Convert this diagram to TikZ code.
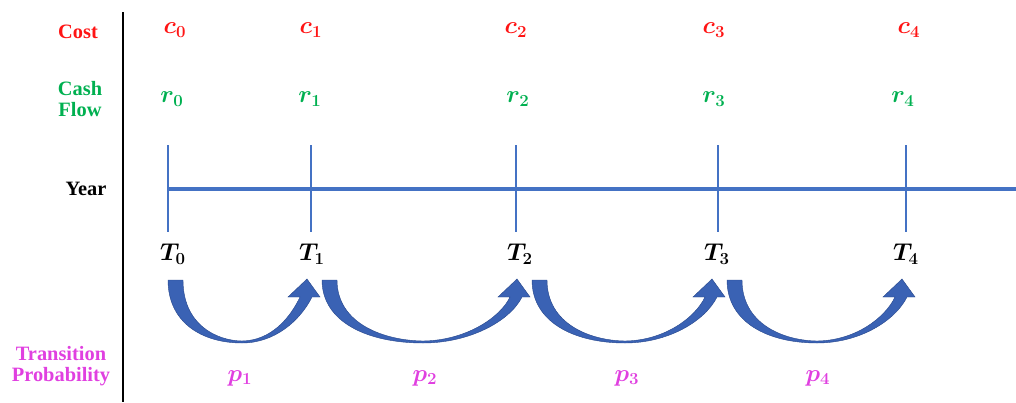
\documentclass[tikz,border=0pt]{standalone}
\usepackage{amsmath,bm}
\usepackage[no-math]{fontspec}
\setmainfont{Liberation Serif}
\definecolor{costred}{RGB}{255,20,20}
\definecolor{cfgreen}{RGB}{0,176,80}
\definecolor{tpmag}{RGB}{224,64,224}
\definecolor{lineblue}{RGB}{68,114,196}
\definecolor{arrblue}{RGB}{58,98,180}
\definecolor{arrdark}{RGB}{40,72,140}
\newcommand\mv[2]{$\bm{#1}_{\bm{#2}}$}
\newcommand\uarrow[4]{% name, tail-left x, bottom x, tip x
  \fill[arrblue, draw=arrdark, line width=0.3pt]
    (#2,280) -- ({#2+15},280)
    .. controls ({#2+15},324) and ({#3-0.45*(#3-#2-15)},340.5) .. (#3,341)
    .. controls ({#3+0.45*(#4-#3)},340.5) and ({#4-17},318) .. ({#4-7},297)
    -- ({#4-19},297) -- (#4,279) coordinate (#1) -- ({#4+13},297) -- ({#4+5},297)
    .. controls ({#4-7},321) and ({#3+0.5*(#4-#3)},343) .. (#3,343)
    .. controls ({#3-0.55*(#3-#2)},343) and (#2,322) .. (#2,280) -- cycle;}
\tikzset{
  lab/.style={font=\fontsize{14.5}{17}\selectfont\bfseries, align=center, inner sep=0pt},
  sym/.style={font=\fontsize{16.5}{19}\selectfont, inner sep=0pt},
  tick/.style={lineblue, line width=1.1pt},
}
\begin{document}
\begin{tikzpicture}[x=0.025cm, y=-0.025cm]
\useasboundingbox (0,0) rectangle (1016,402);
% axis separator
\coordinate (sepTop) at (123,12);
\coordinate (sepBot) at (123,402);
\draw[black, line width=1.4pt] (sepTop) -- (sepBot);
% row labels
\node[lab, text=costred] (lcost) at (78,32) {Cost};
\node[lab, text=cfgreen] (lcf) at (80,99) {Cash\\[-2pt]Flow};
\node[lab, text=black] (lyear) at (86,189) {Year};
\node[lab, text=tpmag] (ltp) at (61,366) {Transition\\[-2pt]Probability};
% timeline
\coordinate (tl0) at (168,189);
\coordinate (tlend) at (1016,189);
\draw[lineblue, line width=2.2pt] (tl0) -- (tlend);
\foreach \i/\x in {0/168,1/311,2/516,3/718,4/906}{
  \coordinate (tt\i) at (\x,145);
  \coordinate (tb\i) at (\x,232);
  \draw[tick] (tt\i) -- (tb\i);
}
% costs
\node[sym, text=costred] (c0) at (175,30) {\mv{c}{0}};
\node[sym, text=costred] (c1) at (311,30) {\mv{c}{1}};
\node[sym, text=costred] (c2) at (516,30) {\mv{c}{2}};
\node[sym, text=costred] (c3) at (714,30) {\mv{c}{3}};
\node[sym, text=costred] (c4) at (909,30) {\mv{c}{4}};
% cash flows
\node[sym, text=cfgreen] (r0) at (172,99) {\mv{r}{0}};
\node[sym, text=cfgreen] (r1) at (310,99) {\mv{r}{1}};
\node[sym, text=cfgreen] (r2) at (518,99) {\mv{r}{2}};
\node[sym, text=cfgreen] (r3) at (714,99) {\mv{r}{3}};
\node[sym, text=cfgreen] (r4) at (903,99) {\mv{r}{4}};
% years
\node[sym] (T0) at (173,254) {\mv{T}{0}};
\node[sym] (T1) at (312,254) {\mv{T}{1}};
\node[sym] (T2) at (520,254) {\mv{T}{2}};
\node[sym] (T3) at (717,254) {\mv{T}{3}};
\node[sym] (T4) at (906,254) {\mv{T}{4}};
% transition arrows
\uarrow{a1}{168}{242}{307}
\uarrow{a2}{322}{423}{517}
\uarrow{a3}{532}{625}{712}
\uarrow{a4}{727}{817}{902}
% probabilities
\node[sym, text=tpmag] (p1) at (240,378) {\mv{p}{1}};
\node[sym, text=tpmag] (p2) at (425,378) {\mv{p}{2}};
\node[sym, text=tpmag] (p3) at (627,378) {\mv{p}{3}};
\node[sym, text=tpmag] (p4) at (818,378) {\mv{p}{4}};
\end{tikzpicture}
\end{document}
